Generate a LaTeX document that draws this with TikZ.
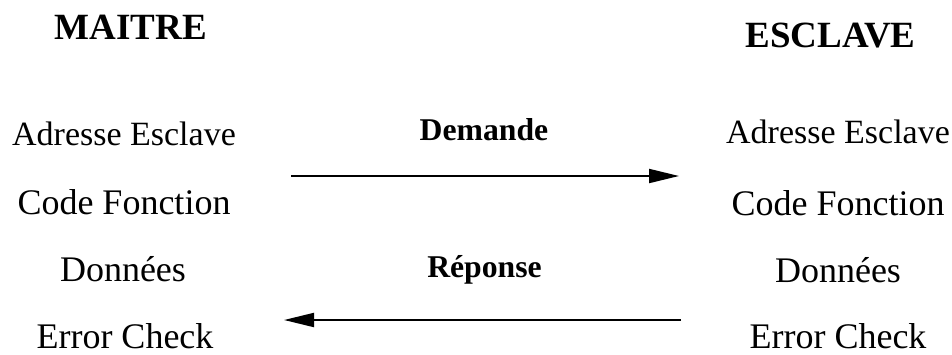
\documentclass[tikz,border=0pt]{standalone}
\usepackage{fontspec}
\setmainfont{Liberation Serif}
\usetikzlibrary{arrows.meta}
\begin{document}
\begin{tikzpicture}[x=1pt,y=-1pt,
  txt/.style={inner sep=0pt,anchor=base,font=\fontsize{36}{40}\selectfont},
  txtsm/.style={inner sep=0pt,anchor=base,font=\fontsize{34}{40}\selectfont},
  head/.style={inner sep=0pt,anchor=base,font=\fontsize{37}{42}\selectfont\bfseries},
  msg/.style={inner sep=0pt,anchor=base,font=\fontsize{31.7}{36}\selectfont\bfseries},
  flow/.style={line width=2pt,-{Triangle[length=30pt,width=14pt]}}]
\useasboundingbox (0,0) rectangle (952,354);
\node[head] (maitre) at (131,39) {MAITRE};
\node[head] (esclave) at (830.5,47) {ESCLAVE};
\node[txtsm] (la) at (124,145) {Adresse Esclave};
\node[txt] (lc) at (124,214) {Code Fonction};
\node[txt] (ld) at (123,281) {Données};
\node[txt] (le) at (125,348) {Error Check};
\node[txtsm] (ra) at (838,143) {Adresse Esclave};
\node[txt] (rc) at (838,215) {Code Fonction};
\node[txt] (rd) at (838,282) {Données};
\node[txt] (re) at (838,348) {Error Check};
\node[msg] (dem) at (484,140) {Demande};
\node[msg] (rep) at (484.5,277) {Réponse};
\coordinate (d1) at (291,176);
\coordinate (d2) at (679,176);
\coordinate (r1) at (681,320);
\coordinate (r2) at (284,320);
\draw[flow] (d1) -- (d2);
\draw[flow] (r1) -- (r2);
\end{tikzpicture}
\end{document}
